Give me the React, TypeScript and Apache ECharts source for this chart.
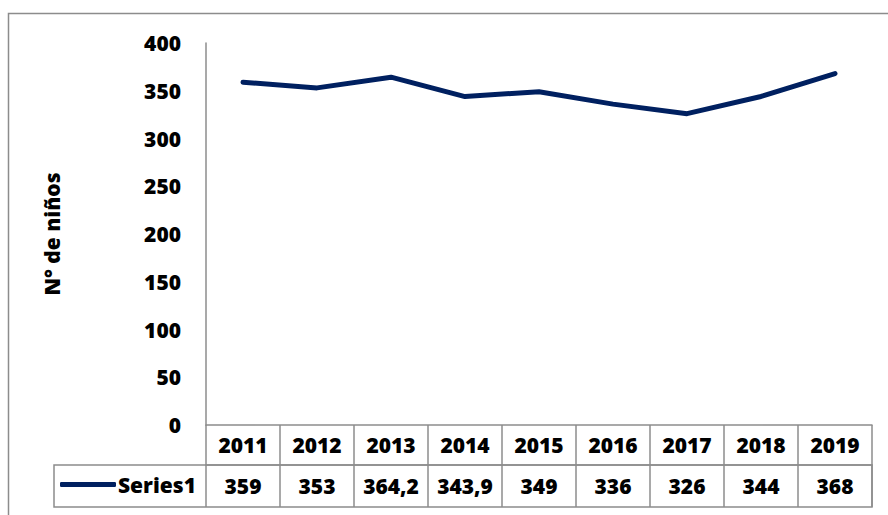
import React, { useEffect, useRef } from "react";
import * as echarts from "echarts";

const years = ["2011", "2012", "2013", "2014", "2015", "2016", "2017", "2018", "2019"];
const values = [359, 353, 364.2, 343.9, 349, 336, 326, 344, 368];
const seriesName = "Series1";
const yTitle = "N° de niños";

const FONT = "'Open Sans', 'Noto Sans', sans-serif";
const GRAY = "#8c8c8c";
const LINE = "#002060";

export default function App() {
  const ref = useRef<HTMLDivElement>(null);
  useEffect(() => {
    if (!ref.current) return;
    const chart = echarts.init(ref.current, undefined, { renderer: "svg" });
    const labelStyle = { fontFamily: FONT, fontWeight: 800 as const, fontSize: 21, color: "#000" };
    chart.setOption({
      animation: false,
      backgroundColor: "#fff",
      grid: { left: 206, right: 16, top: 43, bottom: 90, containLabel: false },
      legend: {
        show: true,
        left: 60,
        top: 474,
        padding: 0,
        icon: "roundRect",
        itemWidth: 56,
        itemHeight: 5,
        textStyle: { ...labelStyle, padding: [0, 0, 0, -3] },
        data: [seriesName],
      },
      xAxis: [
        {
          type: "category",
          data: years,
          boundaryGap: true,
          axisLine: { show: true, lineStyle: { color: GRAY, width: 1.5 } },
          axisTick: { show: true, length: 40, lineStyle: { color: GRAY, width: 1.5 } },
          axisLabel: { ...labelStyle, margin: 20, verticalAlign: "middle" },
          splitLine: { show: false },
        },
        {
          type: "category",
          position: "bottom",
          offset: 40,
          data: values.map((v) => String(v).replace(".", ",")),
          boundaryGap: true,
          axisLine: { show: true, lineStyle: { color: GRAY, width: 1.5 } },
          axisTick: { show: true, length: 42, lineStyle: { color: GRAY, width: 1.5 } },
          axisLabel: { ...labelStyle, margin: 21, verticalAlign: "middle" },
          splitLine: { show: false },
        },
      ],
      yAxis: {
        type: "value",
        min: 0,
        max: 400,
        interval: 50,
        name: yTitle,
        nameLocation: "middle",
        nameRotate: 90,
        nameGap: 144,
        nameTextStyle: labelStyle,
        axisLine: { show: true, lineStyle: { color: GRAY, width: 1.5 } },
        axisTick: { show: false },
        splitLine: { show: false },
        axisLabel: { ...labelStyle, margin: 25 },
      },
      series: [
        {
          name: seriesName,
          type: "line",
          data: values,
          xAxisIndex: 0,
          symbol: "none",
          lineStyle: { color: LINE, width: 5, cap: "round", join: "round" },
          itemStyle: { color: LINE },
        },
      ],
      graphic: [
        {
          type: "rect",
          shape: { x: 8.5, y: 13.5, width: 1000, height: 1000 },
          style: { fill: "none", stroke: GRAY, lineWidth: 1.5 },
          silent: true,
        },
        {
          type: "rect",
          shape: { x: 54, y: 465, width: 818, height: 42 },
          style: { fill: "none", stroke: GRAY, lineWidth: 1.5 },
          silent: true,
        },
      ],
    });
    return () => chart.dispose();
  }, []);
  return (
    <div
      ref={ref}
      style={{ position: "absolute", left: 0, top: 0, width: 888, height: 515 }}
    />
  );
}
